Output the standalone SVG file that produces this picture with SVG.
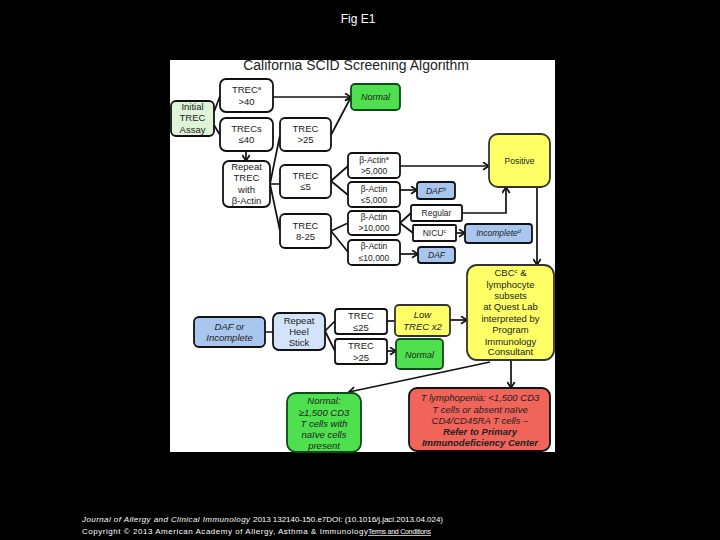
<svg xmlns="http://www.w3.org/2000/svg" width="720" height="540" viewBox="0 0 720 540">
<style>
text{font-family:"Liberation Sans",Arial,sans-serif;text-anchor:middle;fill:#222;font-size:9.5px}
.b{stroke:#111;stroke-width:1.8}
.w{fill:#fff}.lg{fill:#dff3d8}.g{fill:#4fe04f;stroke:#0c4a1a}.y{fill:#ffff66;stroke:#333}.bl{fill:#a9c6ee}.lb{fill:#d3e3fa}.r{fill:#f0645a}
.i{font-style:italic}
.c path{fill:none;stroke:#111;stroke-width:1.7}
.a{marker-end:url(#m)}
.foot{fill:#fff;font-size:8px;text-anchor:start;font-style:normal}
</style>
<defs>
<marker id="m" markerUnits="userSpaceOnUse" markerWidth="9" markerHeight="9" refX="7.5" refY="4.5" orient="auto"><path d="M1.500 0.8L7.500 4.500L1.500 8.200" fill="none" stroke="#111" stroke-width="1.7"/></marker>
</defs>
<rect width="720" height="540" fill="#000"/>
<text x="358" y="23" style="fill:#fff;font-size:12px">Fig E1</text>
<rect x="170" y="60" width="385" height="392" fill="#fff"/>
<text x="356" y="70" style="font-size:14px">California SCID Screening Algorithm</text>
<g class="c" id="connectors">
<path d="M214 112L220 96M214 125L220 135"/>
<path class="a" d="M273 97H351"/>
<path class="a" d="M331 135L351 97"/>
<path class="a" d="M246 151V161"/>
<path d="M270 184H280M270 184L280 135M270 184L280 231"/>
<path d="M331 181L348 166M331 181L348 195M331 231L348 223M331 231L348 252"/>
<path class="a" d="M400 166H489"/>
<path class="a" d="M400 190H417"/>
<path class="a" d="M400 254H418"/>
<path d="M400 223L411 213M400 223L413 233"/>
<path class="a" d="M462 213H506V187"/>
<path class="a" d="M456 233H465"/>
<path class="a" d="M537 187V265"/>
<path d="M265 332H273M325 331L335 321M325 331L335 351"/>
<path d="M387 321H395"/>
<path class="a" d="M387 351H396"/>
<path class="a" d="M450 320H467"/>
<path class="a" d="M511 360V388"/>
<path class="a" d="M490 362L349 392"/>
</g>
<g id="initial"><rect class="b lg" x="171" y="101" width="43" height="35" rx="5"/><text x="192.500" y="110">Initial</text><text x="192.500" y="121">TREC</text><text x="192.500" y="133">Assay</text></g>
<g id="trec40"><rect class="b w" x="220" y="79" width="53" height="33" rx="6"/><text x="246.500" y="93">TREC<tspan dy="-3" font-size="6">a</tspan></text><text x="246.500" y="105">&gt;40</text></g>
<g id="trecs40"><rect class="b w" x="220" y="118" width="53" height="33" rx="6"/><text x="246.500" y="132">TRECs</text><text x="246.500" y="143">≤40</text></g>
<g id="trec25"><rect class="b w" x="280" y="118" width="51" height="33" rx="5"/><text x="305.500" y="132">TREC</text><text x="305.500" y="143">&gt;25</text></g>
<g id="repeat"><rect class="b w" x="223" y="161" width="47" height="46" rx="6"/><text x="246.500" y="170">Repeat</text><text x="246.500" y="181">TREC</text><text x="246.500" y="193">with</text><text x="246.500" y="204">β-Actin</text></g>
<g id="trec5"><rect class="b w" x="280" y="165" width="51" height="33" rx="5"/><text x="305.500" y="179">TREC</text><text x="305.500" y="190">≤5</text></g>
<g id="trec825"><rect class="b w" x="280" y="214" width="51" height="34" rx="5"/><text x="305.500" y="229">TREC</text><text x="305.500" y="240">8-25</text></g>
<g id="normal1"><rect class="b g" x="351" y="84" width="49" height="26" rx="4"/><text class="i" x="375.500" y="100" style="font-size:9px">Normal</text></g>
<g id="actin1"><rect class="b w" x="348" y="153" width="52" height="25" rx="4"/><text x="374" y="163" style="font-size:8.500px">β-Actin<tspan dy="-3" font-size="5.500">a</tspan></text><text x="374" y="174" style="font-size:8.500px">&gt;5,000</text></g>
<g id="actin2"><rect class="b w" x="348" y="182" width="52" height="25" rx="4"/><text x="374" y="192" style="font-size:8.500px">β-Actin</text><text x="374" y="203" style="font-size:8.500px">≤5,000</text></g>
<g id="actin3"><rect class="b w" x="348" y="211" width="52" height="24" rx="4"/><text x="374" y="220" style="font-size:8.500px">β-Actin</text><text x="374" y="231" style="font-size:8.500px">&gt;10,000</text></g>
<g id="actin4"><rect class="b w" x="348" y="240" width="52" height="25" rx="4"/><text x="374" y="249" style="font-size:8.500px">β-Actin</text><text x="374" y="261" style="font-size:8.500px">≤10,000</text></g>
<g id="daf1"><rect class="b bl" x="417" y="182" width="38" height="17" rx="3"/><text class="i" x="436" y="194" style="font-size:8.500px">DAF<tspan dy="-3" font-size="5.500">b</tspan></text></g>
<g id="regular"><rect class="b w" x="411" y="205" width="51" height="16" rx="2"/><text x="436.500" y="216" style="font-size:8.500px">Regular</text></g>
<g id="nicu"><rect class="b w" x="413" y="225" width="43" height="16" rx="1"/><text x="434.500" y="236" style="font-size:8.500px">NICU<tspan dy="-3" font-size="5.500">c</tspan></text></g>
<g id="incomplete1"><rect class="b bl" x="465" y="224" width="67" height="19" rx="3"/><text class="i" x="498.500" y="236" style="font-size:8.500px">Incomplete<tspan dy="-3" font-size="5.500">d</tspan></text></g>
<g id="daf2"><rect class="b bl" x="418" y="247" width="37" height="16" rx="3"/><text class="i" x="436.500" y="258" style="font-size:8.500px">DAF</text></g>
<g id="positive"><rect class="b y" x="489" y="134" width="61" height="53" rx="9"/><text x="519.500" y="164" style="font-size:8.500px">Positive</text></g>
<g id="cbc"><rect class="b y" x="467" y="265" width="87" height="95" rx="10"/><text x="510.500" y="276">CBC<tspan dy="-3" font-size="6">c</tspan><tspan dy="3"> &amp;</tspan></text><text x="510.500" y="288">lymphocyte</text><text x="510.500" y="299">subsets</text><text x="510.500" y="310">at Quest Lab</text><text x="510.500" y="322">interpreted by</text><text x="510.500" y="333">Program</text><text x="510.500" y="345">Immunology</text><text x="510.500" y="355">Consultant</text></g>
<g id="low"><rect class="b y" x="395" y="305" width="55" height="31" rx="4"/><text class="i" x="422.500" y="318">Low</text><text class="i" x="422.500" y="330">TREC x2</text></g>
<g id="normal2"><rect class="b g" x="396" y="339" width="47" height="30" rx="4"/><text class="i" x="419.500" y="358" style="font-size:9px">Normal</text></g>
<g id="red"><rect class="b r" x="409" y="388" width="141" height="63" rx="8"/><text class="i" x="480" y="401">T lymphopenia: &lt;1,500 CD3</text><text class="i" x="480" y="413">T cells or absent naïve</text><text class="i" x="480" y="424">CD4/CD45RA T cells –</text><text class="i" x="480" y="435" font-weight="bold">Refer to Primary</text><text class="i" x="480" y="446" font-weight="bold">Immunodeficiency Center</text></g>
<g id="dafor"><rect class="b bl" x="194" y="317" width="71" height="30" rx="5"/><text class="i" x="229.500" y="330">DAF or</text><text class="i" x="229.500" y="341">Incomplete</text></g>
<g id="heel"><rect class="b lb" x="273" y="313" width="52" height="37" rx="6"/><text x="299" y="324">Repeat</text><text x="299" y="335">Heel</text><text x="299" y="346">Stick</text></g>
<g id="trecle25"><rect class="b w" x="335" y="309" width="52" height="25" rx="3"/><text x="361" y="319">TREC</text><text x="361" y="331">≤25</text></g>
<g id="trecgt25"><rect class="b w" x="335" y="339" width="52" height="25" rx="3"/><text x="361" y="349">TREC</text><text x="361" y="361">&gt;25</text></g>
<g id="normal3"><rect class="b g" x="287" y="393" width="74" height="59" rx="9"/><text class="i" x="324" y="404">Normal:</text><text class="i" x="324" y="416">≥1,500 CD3</text><text class="i" x="324" y="427">T cells with</text><text class="i" x="324" y="438">naïve cells</text><text class="i" x="324" y="449">present</text></g>
<text class="foot" x="82" y="522" textLength="168" style="font-style:italic">Journal of Allergy and Clinical Immunology</text>
<text class="foot" x="253" y="522" textLength="190">2013 132140-150.e7DOI: (10.1016/j.jaci.2013.04.024)</text>
<text class="foot" x="82" y="534" textLength="286">Copyright © 2013 American Academy of Allergy, Asthma &amp; Immunology</text>
<text class="foot" x="368" y="534" text-decoration="underline" textLength="63" style="font-size:7px"> Terms and Conditions</text>
</svg>
